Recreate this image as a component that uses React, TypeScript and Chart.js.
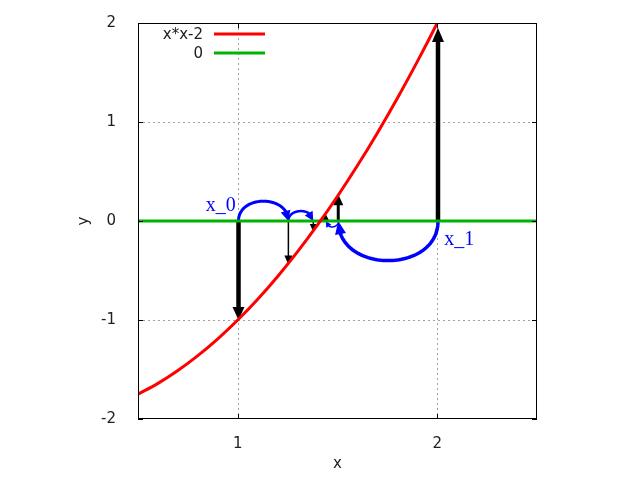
import { useEffect, useRef } from 'react';
import { Chart, registerables } from 'chart.js';

Chart.register(...registerables);

// ---- data ----
const curveX = [0.5, 0.6, 0.7, 0.8, 0.9, 1.0, 1.1, 1.2, 1.3, 1.4, 1.5, 1.6, 1.7, 1.8, 1.9, 2.0, 2.1];
const curveY = [-1.75, -1.64, -1.51, -1.36, -1.19, -1.0, -0.79, -0.56, -0.31, -0.04, 0.25, 0.56, 0.89, 1.24, 1.61, 2.0, 2.41];
const zeroX = [0.5, 2.5];
const zeroY = [0, 0];
const seriesNames = ['x*x-2', '0'];

const xTicks = [1, 2];
const yTicks = [-2, -1, 0, 1, 2];
const gridX = [1, 2];
const gridY = [-1, 0, 1];

// vertical arrows from the x axis to the curve
const arrowX = [1, 2, 1.5, 1.25, 1.375, 1.4375];
const arrowY = [-1, 1.95, 0.27, -0.44, -0.11, 0.07];

// curved hops between iterates (height in y units, negative = below axis)
const arcFrom = [1, 1.25, 2, 1.5];
const arcTo = [1.25, 1.375, 1.5, 1.4375];
const arcDepth = [0.2, 0.1, -0.4, -0.06];

const iterLabels = ['x_0', 'x_1'];
const iterLabelX = [1, 2];

// ---- styles ----
const FONT = 'DejaVu Sans';
const TEXT = '#202020';
const RED = '#ff0000';
const GREEN = '#00b400';
const BLUE = '#0000ff';
const arrowStyles = [
  { w: 4.5, len: 13, half: 6 },
  { w: 4.5, len: 14, half: 6 },
  { w: 3, len: 11, half: 5 },
  { w: 1.5, len: 9, half: 4 },
  { w: 1.5, len: 8, half: 3.5 },
  { w: 1.5, len: 6, half: 3 },
];
const arcStyles = [
  { w: 3, len: 10, half: 5 },
  { w: 2.5, len: 9, half: 4.5 },
  { w: 3.5, len: 13, half: 5.5 },
  { w: 1.5, len: 6, half: 3 },
];

function head(ctx: CanvasRenderingContext2D, bx: number, by: number, tx: number, ty: number, half: number, color: string) {
  const dx = tx - bx;
  const dy = ty - by;
  const d = Math.hypot(dx, dy) || 1;
  const nx = -dy / d;
  const ny = dx / d;
  ctx.fillStyle = color;
  ctx.beginPath();
  ctx.moveTo(tx, ty);
  ctx.lineTo(bx + nx * half, by + ny * half);
  ctx.lineTo(bx - nx * half, by - ny * half);
  ctx.closePath();
  ctx.fill();
}

const overlay = {
  id: 'overlay',
  beforeDatasetsDraw(chart: any) {
    const { ctx, chartArea: a, scales } = chart;
    const sx = scales.x;
    const sy = scales.y;
    ctx.save();
    // dotted grid
    ctx.strokeStyle = '#a0a0a0';
    ctx.lineWidth = 1;
    ctx.setLineDash([2, 3]);
    gridX.forEach((v) => {
      const px = Math.round(sx.getPixelForValue(v)) + 0.5;
      ctx.beginPath();
      ctx.moveTo(px, a.top);
      ctx.lineTo(px, a.bottom);
      ctx.stroke();
    });
    gridY.forEach((v) => {
      const py = Math.round(sy.getPixelForValue(v)) + 0.5;
      ctx.beginPath();
      ctx.moveTo(a.left, py);
      ctx.lineTo(a.right, py);
      ctx.stroke();
    });
    ctx.setLineDash([]);

    // black vertical arrows
    const y0 = sy.getPixelForValue(0);
    arrowX.forEach((v, i) => {
      const st = arrowStyles[i];
      const px = sx.getPixelForValue(v) + 0.75;
      const ty = sy.getPixelForValue(arrowY[i]);
      const dir = ty > y0 ? 1 : -1;
      const by = ty - dir * st.len;
      ctx.strokeStyle = '#000';
      ctx.lineWidth = st.w;
      ctx.lineCap = 'butt';
      ctx.beginPath();
      ctx.moveTo(px, y0);
      ctx.lineTo(px, by + dir * 1);
      ctx.stroke();
      head(ctx, px, by, px, ty, st.half, '#000');
    });

    // blue hops
    arcFrom.forEach((f, i) => {
      const st = arcStyles[i];
      const x0 = sx.getPixelForValue(f) + 0.75;
      const x1 = sx.getPixelForValue(arcTo[i]) + 0.75;
      const yc = sy.getPixelForValue((arcDepth[i] * 4) / 3);
      const pt = (t: number) => {
        const u = 1 - t;
        return [
          u * u * u * x0 + 3 * u * u * t * x0 + 3 * u * t * t * x1 + t * t * t * x1,
          u * u * u * y0 + 3 * u * u * t * yc + 3 * u * t * t * yc + t * t * t * y0,
        ];
      };
      let tEnd = 1;
      while (tEnd > 0.5) {
        const p = pt(tEnd);
        if (Math.hypot(p[0] - x1, p[1] - y0) >= st.len) break;
        tEnd -= 0.005;
      }
      ctx.strokeStyle = BLUE;
      ctx.lineWidth = st.w;
      ctx.lineJoin = 'round';
      ctx.beginPath();
      const steps = 60;
      for (let k = 0; k <= steps; k++) {
        const p = pt((tEnd * k) / steps);
        if (k === 0) ctx.moveTo(p[0], p[1]);
        else ctx.lineTo(p[0], p[1]);
      }
      const pe = pt(Math.min(1, tEnd + 0.02));
      ctx.lineTo(pe[0], pe[1]);
      ctx.stroke();
      const pb = pt(tEnd);
      head(ctx, pb[0], pb[1], x1, y0, st.half, BLUE);
    });
    ctx.restore();
  },
  afterDatasetsDraw(chart: any) {
    const { ctx, chartArea: a, scales } = chart;
    const sx = scales.x;
    const sy = scales.y;
    ctx.save();
    // border
    ctx.strokeStyle = '#000';
    ctx.lineWidth = 1;
    ctx.strokeRect(Math.round(a.left) + 0.5, Math.round(a.top) + 0.5, Math.round(a.right - a.left) - 1, Math.round(a.bottom - a.top) - 1);
    // inward ticks
    const T = 5;
    xTicks.forEach((v) => {
      const px = Math.round(sx.getPixelForValue(v)) + 0.5;
      ctx.beginPath();
      ctx.moveTo(px, a.bottom);
      ctx.lineTo(px, a.bottom - T);
      ctx.moveTo(px, a.top);
      ctx.lineTo(px, a.top + T);
      ctx.stroke();
    });
    yTicks.forEach((v) => {
      const py = Math.round(sy.getPixelForValue(v)) + 0.5;
      ctx.beginPath();
      ctx.moveTo(a.left, py);
      ctx.lineTo(a.left + T, py);
      ctx.moveTo(a.right, py);
      ctx.lineTo(a.right - T, py);
      ctx.stroke();
    });
    // legend
    const colors = [RED, GREEN];
    ctx.font = `15px "${FONT}"`;
    ctx.textAlign = 'right';
    ctx.textBaseline = 'middle';
    seriesNames.forEach((n, i) => {
      const ly = 34 + i * 19;
      ctx.fillStyle = TEXT;
      ctx.fillText(n, 203, ly + 1);
      ctx.strokeStyle = colors[i];
      ctx.lineWidth = 3;
      ctx.beginPath();
      ctx.moveTo(214, ly);
      ctx.lineTo(265, ly);
      ctx.stroke();
    });
    // iterate labels
    ctx.font = '20px "Liberation Serif"';
    ctx.fillStyle = BLUE;
    ctx.textBaseline = 'alphabetic';
    const y0 = sy.getPixelForValue(0);
    iterLabels.forEach((t, i) => {
      const px = sx.getPixelForValue(iterLabelX[i]);
      if (i === 0) {
        ctx.textAlign = 'right';
        ctx.fillText(t, px - 2, y0 - 10);
      } else {
        ctx.textAlign = 'left';
        ctx.fillText(t, px + 7, y0 + 24);
      }
    });
    ctx.restore();
  },
};

export default function App() {
  const ref = useRef<HTMLCanvasElement | null>(null);
  useEffect(() => {
    if (!ref.current) return;
    const tickFont = { family: FONT, size: 15 };
    const chart = new Chart(ref.current, {
      type: 'scatter',
      data: {
        datasets: [
          {
            label: seriesNames[0],
            data: curveX.map((v, i) => ({ x: v, y: curveY[i] })),
            borderColor: RED,
            backgroundColor: RED,
            borderWidth: 3,
            pointRadius: 0,
            showLine: true,
            cubicInterpolationMode: 'monotone',
            clip: 0,
          } as any,
          {
            label: seriesNames[1],
            data: zeroX.map((v, i) => ({ x: v, y: zeroY[i] })),
            borderColor: GREEN,
            backgroundColor: GREEN,
            borderWidth: 3,
            pointRadius: 0,
            showLine: true,
            clip: 0,
          } as any,
        ],
      },
      options: {
        responsive: false,
        animation: false,
        layout: { padding: { left: 0, top: 22, right: 103, bottom: 0 } },
        plugins: { legend: { display: false }, tooltip: { enabled: false } },
        events: [],
        scales: {
          x: {
            type: 'linear',
            min: 0.5,
            max: 2.5,
            afterBuildTicks: (s: any) => {
              s.ticks = xTicks.map((v) => ({ value: v }));
            },
            afterFit: (s: any) => {
              s.height = 61;
            },
            grid: { display: false },
            border: { display: false },
            ticks: { font: tickFont, color: TEXT, padding: 8, maxRotation: 0 },
            title: { display: true, text: 'x', font: tickFont, color: TEXT, padding: { top: 0, bottom: 7 } },
          },
          y: {
            type: 'linear',
            min: -2,
            max: 2,
            afterBuildTicks: (s: any) => {
              s.ticks = yTicks.map((v) => ({ value: v }));
            },
            afterFit: (s: any) => {
              s.width = 138;
            },
            grid: { display: false },
            border: { display: false },
            ticks: { font: tickFont, color: TEXT, padding: 14 },
            title: { display: true, text: 'y', font: tickFont, color: TEXT, padding: { top: 75, bottom: 0 } },
          },
        },
      },
      plugins: [overlay],
    });
    return () => chart.destroy();
  }, []);
  return (
    <canvas
      ref={ref}
      width={640}
      height={480}
      style={{ position: 'absolute', left: 0, top: 0, width: 640, height: 480 }}
    />
  );
}
